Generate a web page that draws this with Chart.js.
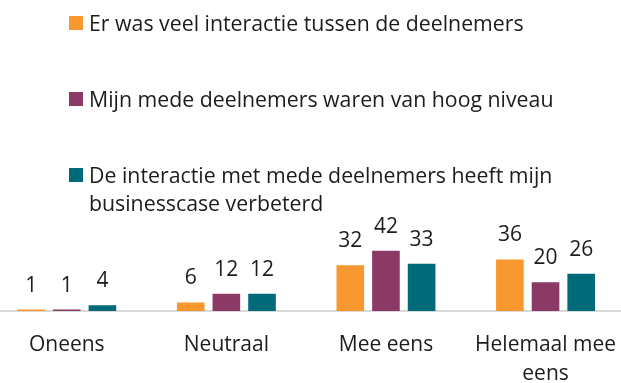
<!DOCTYPE html>
<html>
<head>
<meta charset="utf-8">
<script src="https://cdn.jsdelivr.net/npm/chart.js@4.4.1/dist/chart.umd.min.js"></script>
<style>
  html, body { margin: 0; padding: 0; background: #fff; overflow: hidden; }
  body { width: 621px; height: 383px; position: relative; font-family: "Open Sans", sans-serif; }
  #wrap { position: absolute; left: -13px; top: 0; width: 649px; height: 383px; }
  #legend { position: absolute; left: 69px; top: 0; width: 500px; }
  .item { position: absolute; left: 0; display: flex; align-items: flex-start; }
  .box { width: 14px; height: 14px; flex: none; margin-top: 7px; }
  .txt { margin-left: 6px; font-size: 21.3px; line-height: 28px; color: #1c1c1c; width: 475px; }
</style>
</head>
<body>
<div id="wrap"><canvas id="c" width="649" height="383"></canvas></div>
<div id="legend"></div>
<script>
// Antwoordcategorieën en scores per stelling
const categories = ["Oneens", "Neutraal", "Mee eens", ["Helemaal mee", "eens"]];
const seriesNames = [
  "Er was veel interactie tussen de deelnemers",
  "Mijn mede deelnemers waren van hoog niveau",
  "De interactie met mede deelnemers heeft mijn businesscase verbeterd"
];
const interactie = [1, 6, 32, 36];
const niveau = [1, 12, 42, 20];
const businesscase = [4, 12, 33, 26];
const colors = ["#F8982F", "#8A3A64", "#016A78"];

const FONT = "'Open Sans', sans-serif";

// waarden boven de staven
const valueLabels = {
  id: "valueLabels",
  afterDatasetsDraw(chart) {
    const ctx = chart.ctx;
    ctx.save();
    ctx.font = "21px " + FONT;
    ctx.fillStyle = "#1c1c1c";
    ctx.textAlign = "center";
    ctx.textBaseline = "alphabetic";
    chart.data.datasets.forEach((ds, i) => {
      chart.getDatasetMeta(i).data.forEach((bar, j) => {
        ctx.fillText(String(ds.data[j]), bar.x, bar.y - 18);
      });
    });
    ctx.restore();
  }
};

const chart = new Chart(document.getElementById("c"), {
  type: "bar",
  data: {
    labels: categories,
    datasets: [interactie, niveau, businesscase].map((d, i) => ({
      label: seriesNames[i],
      data: d,
      backgroundColor: colors[i],
      borderWidth: 0,
      categoryPercentage: 0.67,
      barPercentage: 0.775
    }))
  },
  options: {
    responsive: false,
    animation: false,
    layout: { padding: { top: 225, left: 0, right: 0, bottom: 0 } },
    plugins: { legend: { display: false }, tooltip: { enabled: false } },
    scales: {
      x: {
        grid: { display: false, drawTicks: false },
        border: { display: true, color: "#d9d9d9", width: 2 },
        ticks: {
          color: "#1c1c1c",
          font: { family: FONT, size: 21, lineHeight: 1.38 },
          padding: 20,
          maxRotation: 0,
          autoSkip: false
        },
        afterFit(scale) { scale.height = 72; }
      },
      y: { display: false, min: 0, max: 60 }
    }
  },
  plugins: [valueLabels]
});

// legenda met tekstomloop
const legend = document.getElementById("legend");
const tops = [9, 85, 161];
seriesNames.forEach((name, i) => {
  const item = document.createElement("div");
  item.className = "item";
  item.style.top = tops[i] + "px";
  const box = document.createElement("div");
  box.className = "box";
  box.style.background = colors[i];
  const t = document.createElement("div");
  t.className = "txt";
  t.textContent = name;
  item.appendChild(box);
  item.appendChild(t);
  legend.appendChild(item);
});
</script>
</body>
</html>
